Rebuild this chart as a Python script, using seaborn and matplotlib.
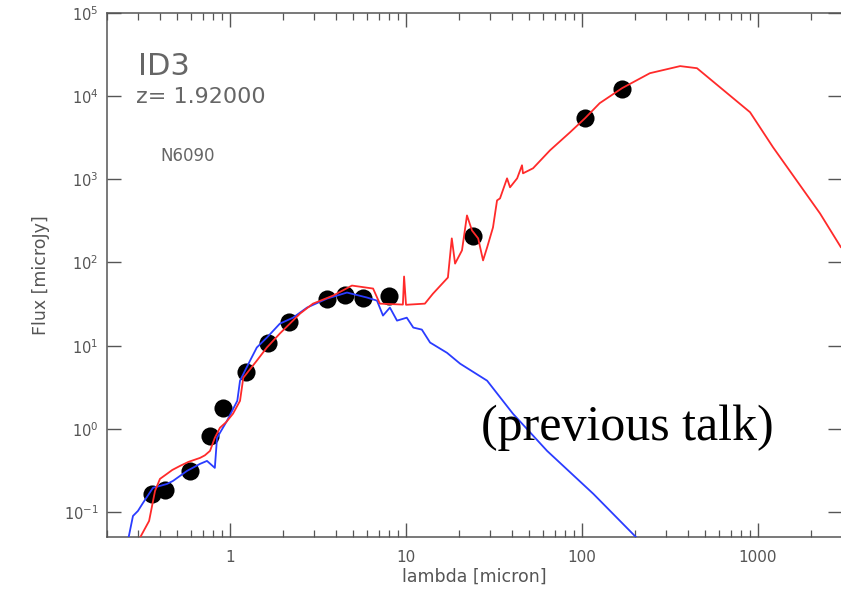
import numpy as np
import pandas as pd
import matplotlib
matplotlib.use("Agg")
import matplotlib.pyplot as plt
import seaborn as sns
from matplotlib.ticker import LogLocator, FixedLocator, FixedFormatter, NullFormatter

# Photometric data points
obs_wave = [0.36, 0.43, 0.59, 0.77, 0.91, 1.23, 1.64, 2.16, 3.56, 4.5, 5.7, 8.0, 24.0, 104.0, 169.0]
obs_flux = [0.165, 0.184, 0.31, 0.82, 1.79, 4.86, 10.9, 19.5, 36.8, 41.0, 37.9, 40.0, 206.0, 5430.0, 12100.0]

# Full model SED (red)
red_wave = [0.308, 0.347, 0.375, 0.40, 0.438, 0.47, 0.52, 0.58, 0.676, 0.72, 0.77, 0.82, 0.877, 0.95,
            1.04, 1.14, 1.19, 1.42, 1.62, 1.92, 2.50, 2.96, 3.85, 4.93, 6.5, 7.1, 9.6, 9.75, 10.0,
            12.8, 14.2, 17.3, 18.2, 19.0, 20.8, 22.2, 23.7, 25.7, 27.4, 28.9, 31.2, 32.9, 34.2,
            37.5, 39.0, 42.8, 45.6, 46.2, 52.7, 65.8, 85.5, 104.0, 126.0, 169.0, 243.0, 361.0,
            450.0, 901.0, 1217.0, 2250.0, 2960.0]
red_flux = [0.049, 0.078, 0.179, 0.25, 0.287, 0.32, 0.358, 0.40, 0.447, 0.48, 0.543, 0.78, 1.03, 1.2,
            1.52, 2.17, 4.11, 6.6, 9.5, 14.0, 24.3, 32.0, 40.0, 52.8, 48.6, 32.0, 31.2, 67.8, 31.0,
            32.0, 42.0, 66.0, 195.0, 97.0, 140.0, 368.0, 243.0, 195.0, 106.0, 152.0, 264.0, 558.0, 590.0,
            1028.0, 802.0, 1028.0, 1476.0, 1181.0, 1358.0, 2235.0, 3680.0, 5430.0, 8240.0, 12500.0,
            18900.0, 23000.0, 21700.0, 6410.0, 2430.0, 389.0, 152.0]

# Stellar template (blue)
blue_wave = [0.263, 0.281, 0.30, 0.32, 0.365, 0.438, 0.474, 0.57, 0.676, 0.74, 0.82, 0.844, 0.962,
             1.10, 1.14, 1.30, 1.42, 1.62, 1.92, 2.28, 2.74, 3.56, 4.62, 6.0, 6.84, 7.4, 8.1, 8.89,
             10.1, 11.0, 12.3, 13.7, 17.1, 20.3, 28.9, 40.5, 63.3, 116.0, 205.0]
blue_flux = [0.045, 0.0895, 0.103, 0.128, 0.195, 0.217, 0.236, 0.312, 0.379, 0.411, 0.339, 0.78, 1.25,
             2.17, 3.79, 6.6, 9.5, 12.5, 18.4, 21.7, 28.7, 36.8, 43.5, 37.9, 34.8, 23.0, 28.7, 20.0,
             21.7, 16.5, 15.6, 10.9, 8.2, 6.07, 3.79, 1.52, 0.543, 0.165, 0.0486]

x_ticks = [1, 10, 100, 1000]
x_labels = ["1", "10", "100", "1000"]

sns.set_theme(style="ticks")
plt.rcParams['font.family'] = ['DejaVu Sans']

fig = plt.figure(figsize=(8.41, 5.92), dpi=100)
ax = fig.add_axes([0.1272, 0.0929, 0.8740, 0.8851])

obs = pd.DataFrame({"wave": obs_wave, "flux": obs_flux})
red = pd.DataFrame({"wave": red_wave, "flux": red_flux})
blue = pd.DataFrame({"wave": blue_wave, "flux": blue_flux})

sns.scatterplot(data=obs, x="wave", y="flux", ax=ax, s=170, color="black",
                edgecolor="black", linewidth=0, zorder=2)
sns.lineplot(data=blue, x="wave", y="flux", ax=ax, sort=False, estimator=None,
             color="#2a3cff", linewidth=1.3, zorder=3)
sns.lineplot(data=red, x="wave", y="flux", ax=ax, sort=False, estimator=None,
             color="#ff2a2a", linewidth=1.3, zorder=4)

ax.set_xscale("log")
ax.set_yscale("log")
ax.set_xlim(0.2, 3000)
ax.set_ylim(0.05, 1e5)

gray = "#555555"
for sp in ax.spines.values():
    sp.set_color(gray)
    sp.set_linewidth(1.1)
    sp.set_visible(True)

ax.xaxis.set_major_locator(FixedLocator(x_ticks))
ax.xaxis.set_major_formatter(FixedFormatter(x_labels))
ax.xaxis.set_minor_locator(LogLocator(base=10, subs=np.arange(2, 10), numticks=20))
ax.xaxis.set_minor_formatter(NullFormatter())
ax.yaxis.set_major_locator(LogLocator(base=10, numticks=12))
ax.yaxis.set_minor_locator(FixedLocator([]))

ax.tick_params(axis="both", which="major", direction="in", length=10, width=1.0,
               color=gray, labelcolor=gray, labelsize=10.5, top=True, right=True)
ax.tick_params(axis="x", which="minor", direction="in", length=5, width=0.9,
               color=gray, top=True, bottom=True)
ax.tick_params(axis="x", which="major", pad=9, labelsize=11)
ax.tick_params(axis="y", which="major", pad=6)

ax.set_xlabel("lambda [micron]", color=gray, fontsize=12.5, labelpad=2)
ax.set_ylabel("Flux [microJy]", color=gray, fontsize=12.5, labelpad=10)

ax.text(0.042, 0.897, "ID3", transform=ax.transAxes, fontsize=22, color="#666666",
        va="center", ha="left")
ax.text(0.040, 0.84, "z= 1.92000", transform=ax.transAxes, fontsize=16, color="#666666",
        va="center", ha="left")
ax.text(0.072, 0.728, "N6090", transform=ax.transAxes, fontsize=12, color="#666666",
        va="center", ha="left")

fig.text(0.572, 0.278, "(previous talk)", fontsize=36, color="black",
         family=["Liberation Serif", "DejaVu Serif"], ha="left", va="center")

fig.savefig("out.png", dpi=100)
